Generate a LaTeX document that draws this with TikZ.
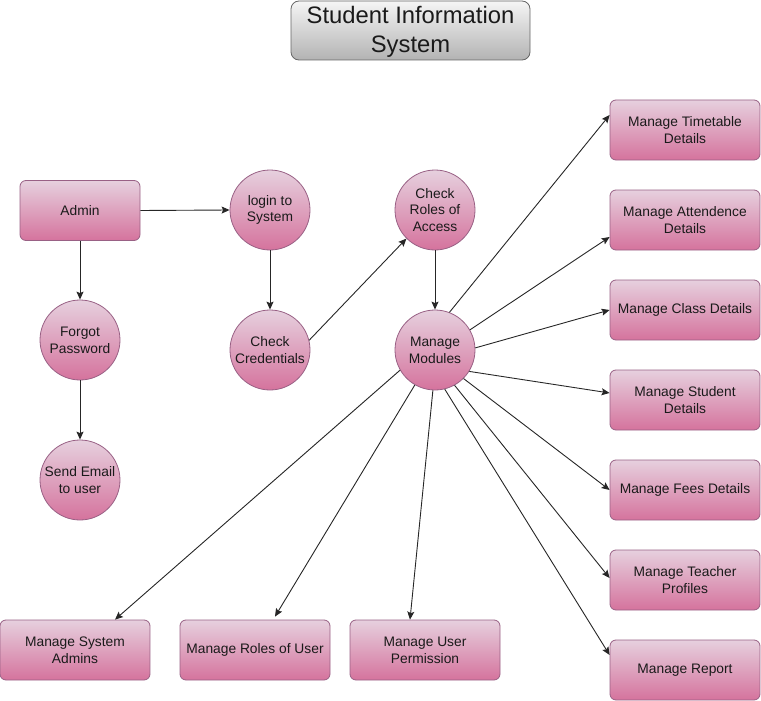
\documentclass[tikz,border=0pt]{standalone}
\usepackage{fontspec}
\setmainfont{Liberation Sans}
\usetikzlibrary{arrows.meta,calc}
\definecolor{pinktop}{HTML}{E6D0DE}
\definecolor{pinkbot}{HTML}{D5739D}
\definecolor{pinkline}{HTML}{996185}
\definecolor{graytop}{HTML}{F5F5F5}
\definecolor{graybot}{HTML}{B3B3B3}
\definecolor{grayline}{HTML}{666666}
\definecolor{txt}{HTML}{1A1A1A}
\tikzset{
  pinkbox/.style={rectangle, rounded corners=6pt, draw=pinkline, line width=0.8pt,
    top color=pinktop, bottom color=pinkbot, minimum width=150pt, minimum height=60pt,
    inner sep=0pt, align=center, text=txt, font=\fontsize{13.8}{16.8}\selectfont},
  pinkcirc/.style={circle, draw=pinkline, line width=0.8pt,
    top color=pinktop, bottom color=pinkbot, minimum size=80pt,
    inner sep=0pt, align=center, text=txt, font=\fontsize{13.8}{16.8}\selectfont},
  titlebox/.style={rectangle, rounded corners=8pt, draw=grayline, line width=0.8pt,
    top color=graytop, bottom color=graybot, minimum width=239pt, minimum height=59pt,
    inner sep=0pt, align=center, text=txt, font=\fontsize{23.8}{29.5}\selectfont},
  arr/.style={draw=black!85, line width=0.9pt, -{Stealth[length=8pt,width=7pt,inset=1.5pt]}}
}
\begin{document}
\begin{tikzpicture}[x=1pt,y=-1pt]
\useasboundingbox (0,0) rectangle (761,701);
\node[titlebox] (title) at (410.5,30.5) {\rule{0pt}{20pt}Student Information\\System};

\node[pinkbox, minimum width=120pt] (admin) at (80,210.5) {Admin};
\node[pinkcirc] (login) at (270,210) {login to\\System};
\node[pinkcirc] (cred) at (270,350) {Check\\Credentials};
\node[pinkcirc] (forgot) at (80,340) {Forgot\\Password};
\node[pinkcirc] (email) at (80,480) {Send Email\\to user};
\node[pinkcirc] (roles) at (435,210) {Check\\Roles of\\Access};
\node[pinkcirc] (mm) at (435,350) {Manage\\Modules};

\node[pinkbox] (tt) at (685,130) {Manage Timetable\\Details};
\node[pinkbox] (att) at (685,220) {Manage Attendence\\Details};
\node[pinkbox] (cls) at (685,310) {Manage Class Details};
\node[pinkbox] (stu) at (685,400) {Manage Student\\Details};
\node[pinkbox] (fees) at (685,490) {Manage Fees Details};
\node[pinkbox] (tea) at (685,580) {Manage Teacher\\Profiles};
\node[pinkbox] (rep) at (685,670) {Manage Report};

\node[pinkbox] (sysad) at (75,650) {Manage System\\Admins};
\node[pinkbox] (rou) at (255,650) {Manage Roles of User};
\node[pinkbox] (perm) at (425,650) {Manage User\\Permission};

\draw[arr] (admin.east) -- (login.west);
\draw[arr] (admin.south) -- (forgot.north);
\draw[arr] (forgot.south) -- (email.north);
\draw[arr] (login.south) -- (cred.north);
\draw[arr] (cred.14) -- (roles.-135);
\draw[arr] (roles.south) -- (mm.north);

\draw[arr] (mm.69) -- ($(tt.west)+(0,-15)$);
\draw[arr] (mm.30) -- ($(att.west)+(0,17)$);
\draw[arr] (mm.3) -- (cls.west);
\draw[arr] (mm.-32) -- ($(stu.west)+(0,-7)$);
\draw[arr] (mm.-45) -- (fees.west);
\draw[arr] (mm.-61) -- ($(tea.west)+(0,-2)$);
\draw[arr] (mm.-76) -- ($(rep.west)+(0,-15)$);
\draw[arr] (mm.-150) -- ($(sysad.north)+(40,0)$);
\draw[arr] (mm.-120) -- ($(rou.north)+(20,-3)$);
\draw[arr] (mm.-93) -- ($(perm.north)+(-15,0)$);
\end{tikzpicture}
\end{document}
